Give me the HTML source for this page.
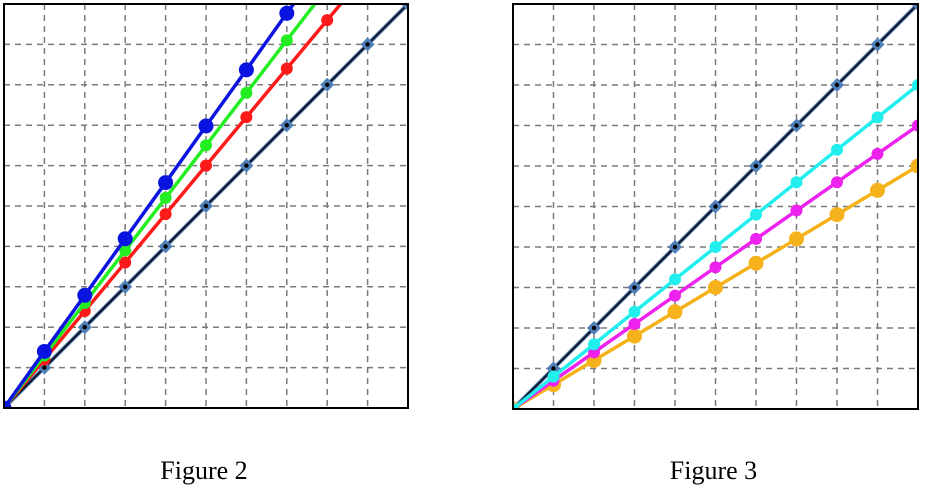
<!DOCTYPE html>
<html><head><meta charset="utf-8"><style>
html,body{margin:0;padding:0;background:#fff;width:927px;height:488px;overflow:hidden}
svg{display:block}
</style></head><body>
<svg id="svg" width="927" height="488" xmlns="http://www.w3.org/2000/svg"></svg>
<script>
const xs = [0,1,2,3,4,5,6,7,8,9,10];
const refLine = [0,1,2,3,4,5,6,7,8,9,10];
const blueVals = [0,1.4,2.79,4.19,5.58,6.98,8.37,9.77,11.16,12.56,13.95];
const greenVals = [0,1.3,2.6,3.9,5.2,6.5,7.8,9.1,10.4,11.7,13.0];
const redVals = [0,1.2,2.4,3.6,4.8,6.0,7.2,8.4,9.6,10.8,12.0];
const cyanVals = [0,0.8,1.6,2.4,3.2,4.0,4.8,5.6,6.4,7.2,8.0];
const magentaVals = [0,0.7,1.4,2.1,2.8,3.5,4.2,4.9,5.6,6.3,7.0];
const orangeVals = [0,0.6,1.2,1.8,2.4,3.0,3.6,4.2,4.8,5.4,6.0];
const gridTicks = [1,2,3,4,5,6,7,8,9];
const captions = ["Figure 2","Figure 3"];

const NS="http://www.w3.org/2000/svg";
const svg=document.getElementById('svg');
function mk(tag,attrs,parent){const e=document.createElementNS(NS,tag);for(const k in attrs)e.setAttribute(k,attrs[k]);(parent||svg).appendChild(e);return e;}

const panels=[
 {x0:4,y0:4,size:404,name:'figure-2',series:[
   {vals:redVals,color:'#ff1a1a',r:6,name:'red-series'},
   {vals:greenVals,color:'#22ee22',r:6,name:'green-series'},
   {vals:blueVals,color:'#0a14e0',r:7.5,name:'blue-series'}]},
 {x0:513,y0:4,size:405,name:'figure-3',series:[
   {vals:orangeVals,color:'#f5b21a',r:7.5,name:'orange-series'},
   {vals:magentaVals,color:'#ee22ee',r:6,name:'magenta-series'},
   {vals:cyanVals,color:'#22eeee',r:6,name:'cyan-series'}]}
];

panels.forEach((p,pi)=>{
  const sx=v=>p.x0+v/10*p.size;
  const sy=v=>p.y0+p.size-v/10*p.size;
  const g=mk('g',{});
  
  
  const cid='clip'+pi;
  const cp=mk('clipPath',{id:cid},g);
  mk('rect',{x:p.x0-1,y:p.y0-1,width:p.size+2,height:p.size+2},cp);
  gridTicks.forEach(t=>{
    const v=mk('line',{x1:sx(t),x2:sx(t),y1:p.y0,y2:p.y0+p.size,stroke:'#7a7a7a','stroke-width':1.5,'stroke-dasharray':'6 5'},g);
    
    
    const h=mk('line',{y1:sy(t),y2:sy(t),x1:p.x0,x2:p.x0+p.size,stroke:'#7a7a7a','stroke-width':1.5,'stroke-dasharray':'6 5'},g);
    
    
  });
  const plot=mk('g',{'clip-path':'url(#'+cid+')'},g);
  // reference black line
  const rl=mk('polyline',{points:xs.map((x,i)=>sx(x)+','+sy(refLine[i])).join(' '),fill:'none',stroke:'#5b86bb','stroke-width':4},plot);
  
  
  const rl2=mk('polyline',{points:xs.map((x,i)=>sx(x)+','+sy(refLine[i])).join(' '),fill:'none',stroke:'#111a2e','stroke-width':2.2},plot);
  
  
  xs.forEach((x,i)=>{
    const cx=sx(x),cy=sy(refLine[i]);
    const d=mk('polygon',{points:`${cx},${cy-7} ${cx+7},${cy} ${cx},${cy+7} ${cx-7},${cy}`,fill:'#4f7fb8'},plot);
    
    
    const c=mk('circle',{cx:cx,cy:cy,r:2.2,fill:'#000'},plot);
    
    
  });
  p.series.forEach(s=>{
    const sg=mk('g',{},plot);
    
    
    const l=mk('polyline',{points:xs.map((x,i)=>sx(x)+','+sy(s.vals[i])).join(' '),fill:'none',stroke:s.color,'stroke-width':3.5},sg);
    
    
    xs.forEach((x,i)=>{
      const c=mk('circle',{cx:sx(x),cy:sy(s.vals[i]),r:s.r,fill:s.color},sg);
      
      
    });
  });
  const fr=mk('rect',{x:p.x0,y:p.y0,width:p.size,height:p.size,fill:'none',stroke:'#000','stroke-width':2},g);
  
  
  const t=mk('text',{x:p.x0+p.size/2-2,y:479,'text-anchor':'middle','font-family':'"Liberation Serif",serif','font-size':26,fill:'#000'},g);
  t.textContent=captions[pi];
  
  
});
</script>
</body></html>
